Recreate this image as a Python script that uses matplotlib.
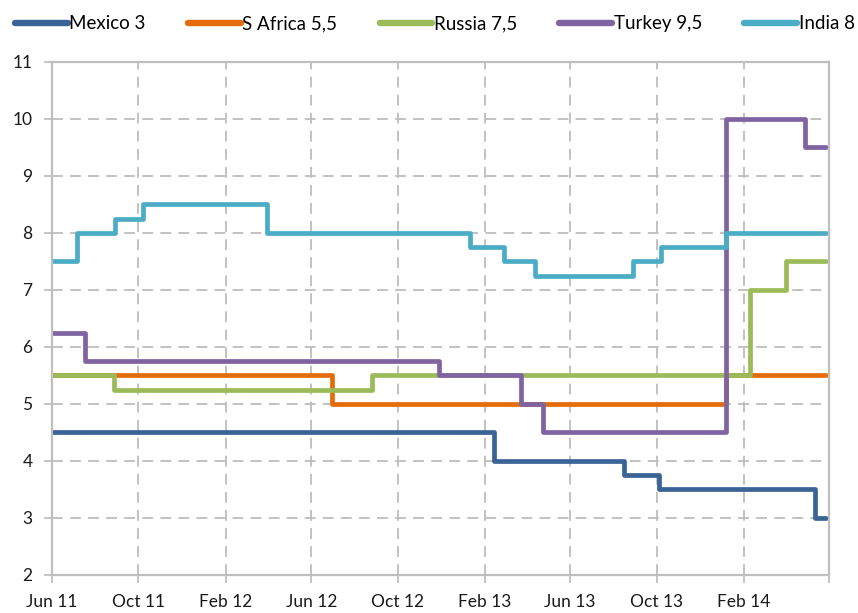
import matplotlib

matplotlib.use("Agg")
import matplotlib.pyplot as plt
import pandas as pd

plt.rcParams["font.family"] = ["Lato", "DejaVu Sans"]

# policy rate changes: (date of change, new level); last date = end of series
END = "2014-05-28"

mexico_dates = ["2011-06-01", "2013-02-14", "2013-08-16", "2013-10-04", "2014-05-13"]
mexico_rates = [4.5, 4.0, 3.75, 3.5, 3.0]

safrica_dates = ["2011-06-01", "2012-06-30", "2014-01-07"]
safrica_rates = [5.5, 5.0, 5.5]

russia_dates = ["2011-06-01", "2011-08-27", "2012-08-25", "2014-02-10", "2014-04-01"]
russia_rates = [5.5, 5.25, 5.5, 7.0, 7.5]

turkey_dates = ["2011-06-01", "2011-07-17", "2012-11-28", "2013-03-24", "2013-04-24",
                "2014-01-07", "2014-04-28"]
turkey_rates = [6.25, 5.75, 5.5, 5.0, 4.5, 10.0, 9.5]

india_dates = ["2011-06-01", "2011-07-06", "2011-08-29", "2011-10-07", "2012-03-30",
               "2013-01-10", "2013-02-28", "2013-04-13", "2013-08-28", "2013-10-07",
               "2014-01-07"]
india_rates = [7.5, 8.0, 8.25, 8.5, 8.0, 7.75, 7.5, 7.25, 7.5, 7.75, 8.0]

series = [
    ("Mexico 3", mexico_dates, mexico_rates, "#3a6496"),
    ("S Africa 5,5", safrica_dates, safrica_rates, "#e46c0a"),
    ("Russia 7,5", russia_dates, russia_rates, "#9bbb59"),
    ("Turkey 9,5", turkey_dates, turkey_rates, "#8064a2"),
    ("India 8", india_dates, india_rates, "#4bacc6"),
]

tick_dates = pd.date_range("2011-06-01", "2014-06-01", freq="4MS")
tick_labels = ["Jun 11", "Oct 11", "Feb 12", "Jun 12", "Oct 12", "Feb 13",
               "Jun 13", "Oct 13", "Feb 14", ""]

fig = plt.figure(figsize=(8.58, 6.13), dpi=100)
ax = fig.add_axes([0.0606, 0.062, 0.9055, 0.837])

for label, dates, rates, color in series:
    x = pd.to_datetime(dates + [END])
    y = rates + [rates[-1]]
    ax.plot(x, y, drawstyle="steps-post", color=color, linewidth=3.4,
            label=label, solid_capstyle="round", solid_joinstyle="round")

ax.set_xlim(pd.Timestamp("2011-06-01"), pd.Timestamp("2014-06-01"))
ax.set_ylim(2, 11)
ax.set_yticks(range(2, 12))
ax.set_xticks(tick_dates)
ax.set_xticklabels(tick_labels)

ax.grid(True, color="#bdbdbd", linestyle=(0, (6, 4)), linewidth=1.3)
ax.set_axisbelow(True)

for s in ax.spines.values():
    s.set_color("#bfbfbf")
    s.set_linewidth(1.6)

ax.tick_params(axis="both", direction="out", color="#bfbfbf", width=1.3, length=6,
               labelsize=12.5, labelcolor="#1a1a1a")
ax.tick_params(axis="x", pad=8)
ax.tick_params(axis="y", pad=8)

leg = fig.legend(loc="upper left", bbox_to_anchor=(0.011, 0.984), ncol=5, frameon=False,
                 fontsize=13.5, handlelength=2.8, handletextpad=0.1, columnspacing=2.25,
                 borderaxespad=0.0, borderpad=0.3)
for h in leg.get_lines():
    h.set_linewidth(4.6)

fig.savefig("out.png", dpi=100)
